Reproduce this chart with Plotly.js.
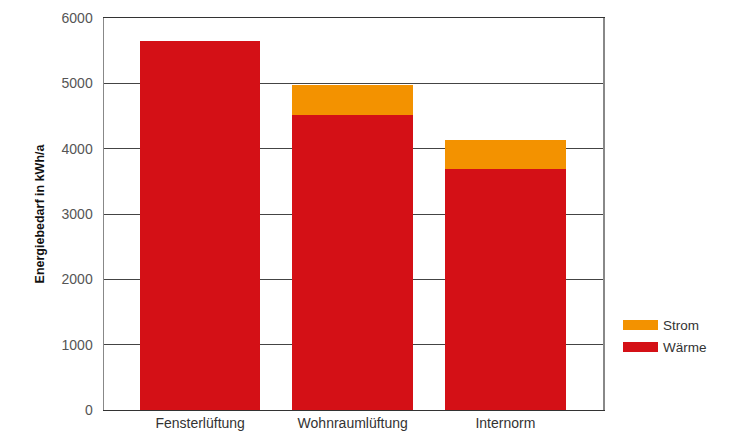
<!DOCTYPE html>
<html><head><meta charset="utf-8">
<script src="https://cdn.plot.ly/plotly-3.0.1.min.js"></script>
<style>body{margin:0;background:#fff}#c{width:739px;height:435px}</style>
</head><body><div id="c"></div>
<script>
const categories = ["Fensterlüftung", "Wohnraumlüftung", "Internorm"];
const waerme = [5650, 4520, 3690];
const strom = [0, 450, 450];
const seriesNames = ["Wärme", "Strom"];
const seriesColors = ["#D41016", "#F39200"];
const yTicks = [0, 1000, 2000, 3000, 4000, 5000, 6000];

const font = "Liberation Sans, Arial, Helvetica, sans-serif";
const traces = [
  {type: "bar", x: categories, y: waerme, name: seriesNames[0], marker: {color: seriesColors[0]}, showlegend: false},
  {type: "bar", x: categories, y: strom, name: seriesNames[1], marker: {color: seriesColors[1]}, showlegend: false}
];

// custom legend (rectangular swatches)
const legendItems = [{name: seriesNames[1], color: seriesColors[1]}, {name: seriesNames[0], color: seriesColors[0]}];
const shapes = [], annotations = [];
legendItems.forEach((it, i) => {
  const yc = 325 + i * 22;
  shapes.push({type: "rect", xref: "paper", yref: "paper",
    x0: (623 - 104) / 499, x1: (658 - 104) / 499,
    y0: (410 - (yc + 5)) / 392, y1: (410 - (yc - 5)) / 392,
    fillcolor: it.color, line: {width: 0}});
  annotations.push({xref: "paper", yref: "paper", x: (661 - 104) / 499, y: (410 - yc) / 392,
    xanchor: "left", yanchor: "middle", showarrow: false, text: it.name,
    font: {family: font, size: 13.5, color: "#333"}});
});

const layout = {
  width: 739, height: 435,
  margin: {l: 104, r: 136, t: 18, b: 25},
  paper_bgcolor: "#fff", plot_bgcolor: "#fff",
  barmode: "stack", bargap: 0.21,
  showlegend: false,
  font: {family: font},
  xaxis: {
    range: [-0.63, 2.64], showgrid: false, zeroline: false,
    showline: true, mirror: true, linecolor: "#333", linewidth: 1,
    ticks: "", tickfont: {family: font, size: 14, color: "#333"}, fixedrange: true
  },
  yaxis: {
    range: [0, 6000], tickvals: yTicks, ticktext: yTicks.map(String),
    showgrid: true, gridcolor: "#444", gridwidth: 1, zeroline: false,
    showline: true, mirror: true, linecolor: "#888", linewidth: 1.5,
    ticks: "", ticklabelstandoff: 7,
    tickfont: {family: font, size: 14, color: "#555"},
    title: {text: "<b>Energiebedarf in kWh/a</b>", font: {family: font, size: 12.5, color: "#111"}, standoff: 14},
    layer: "below traces"
  },
  shapes: shapes,
  annotations: annotations
};
Plotly.newPlot("c", traces, layout, {displayModeBar: false, staticPlot: true});
</script></body></html>
